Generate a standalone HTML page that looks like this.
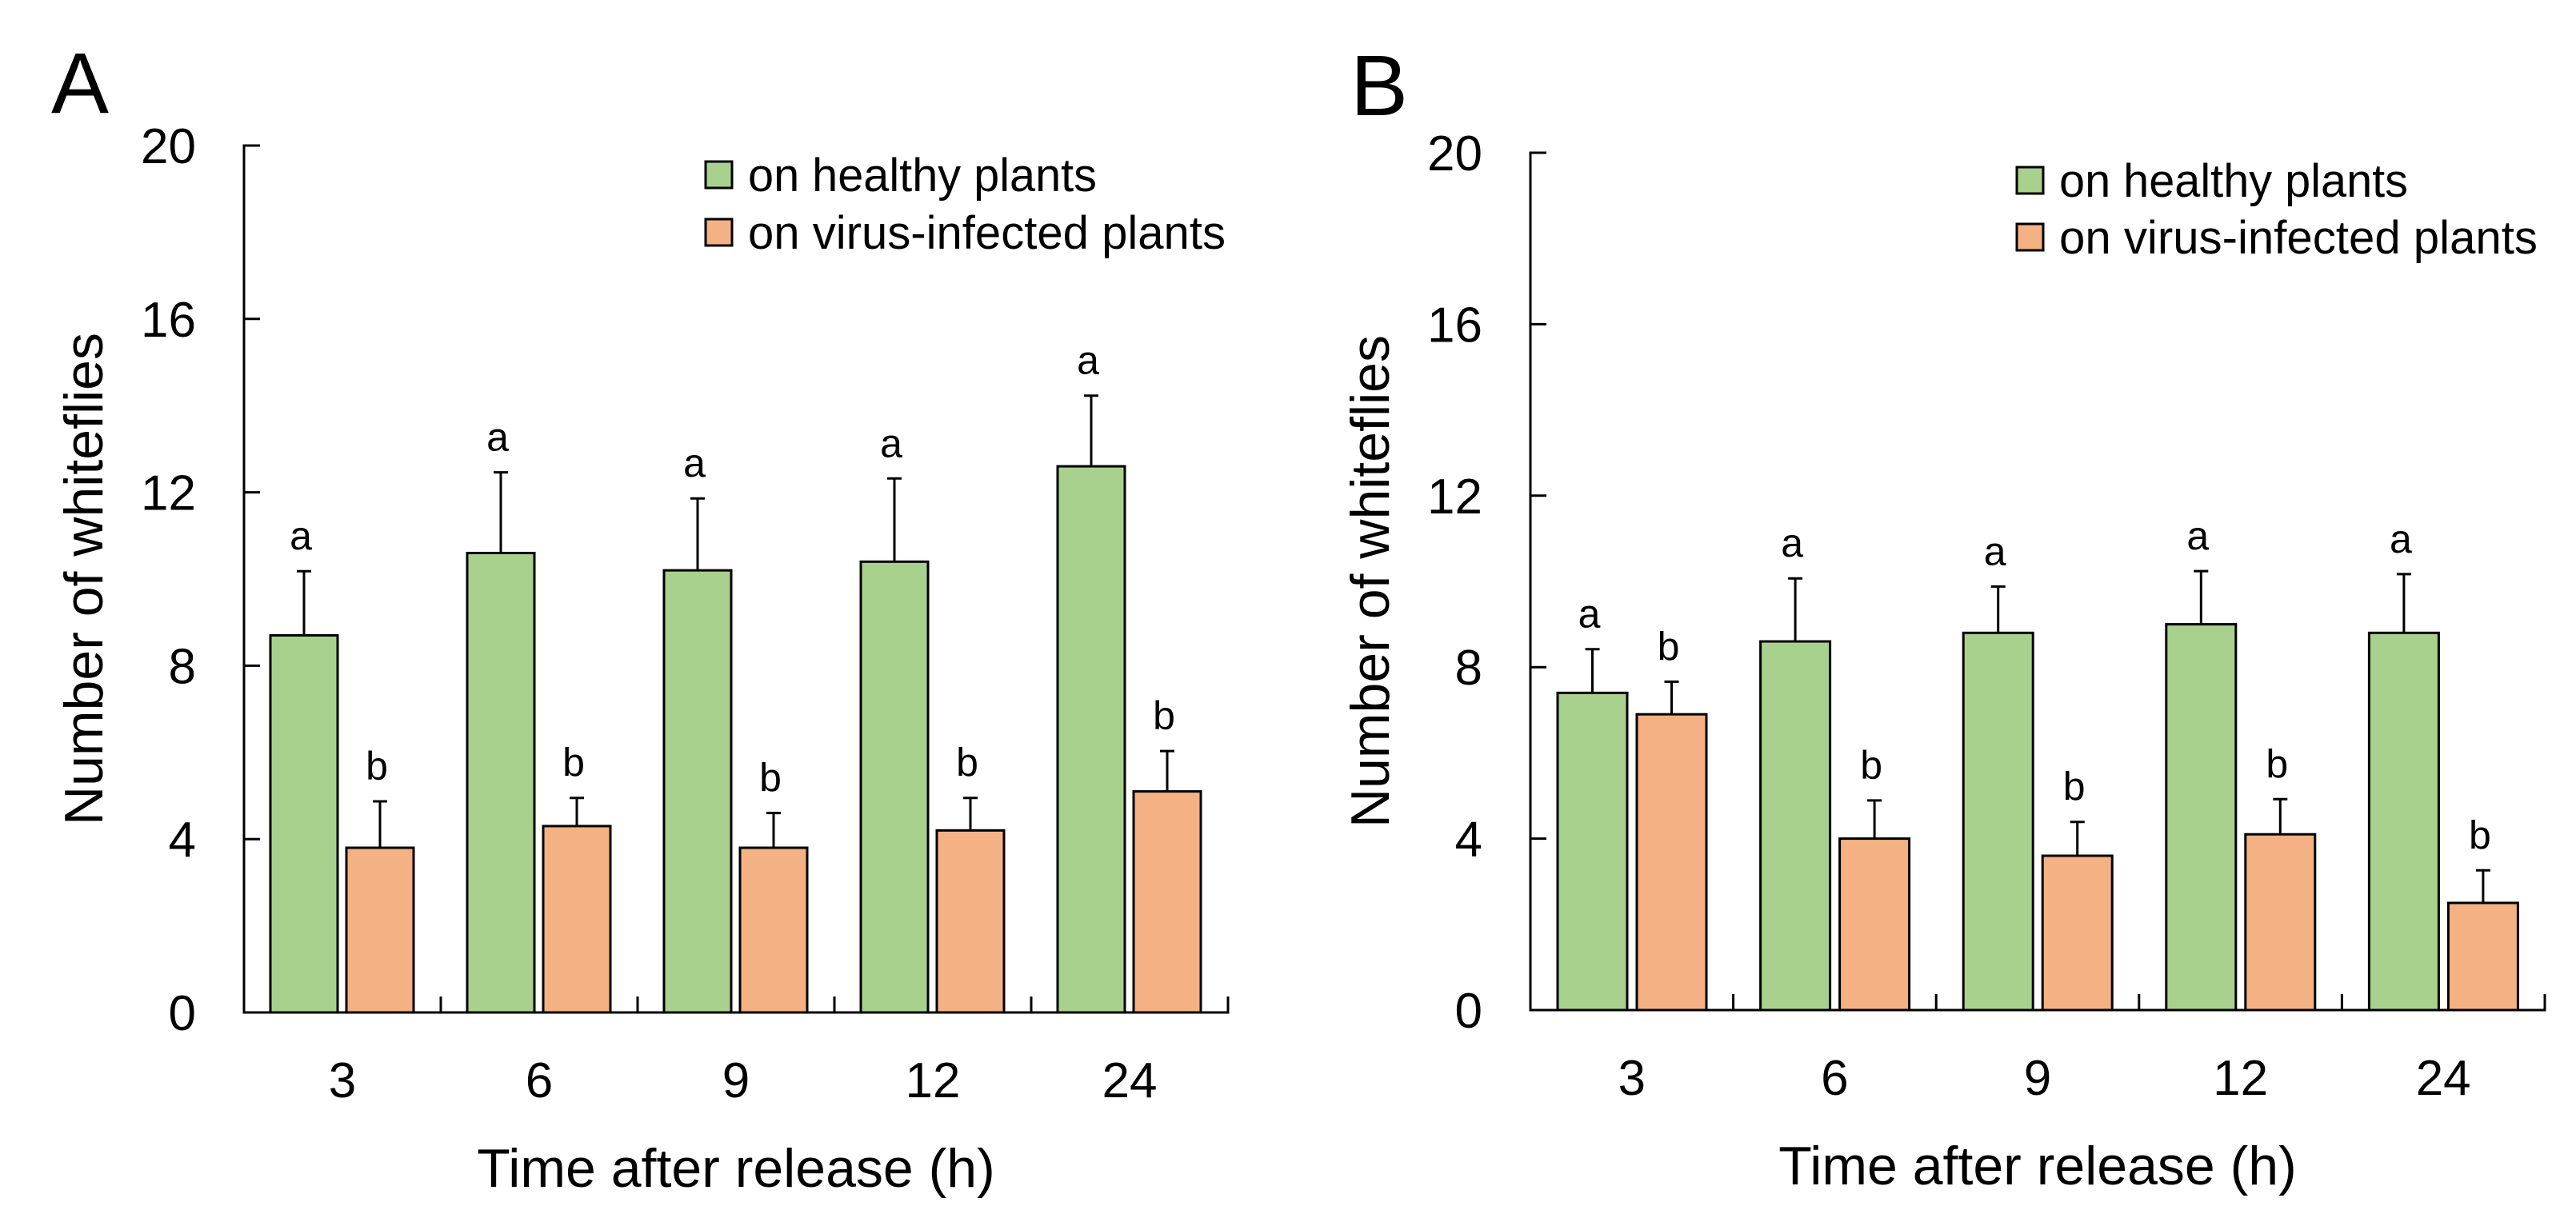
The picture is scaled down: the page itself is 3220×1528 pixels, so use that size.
<!DOCTYPE html>
<html><head><meta charset="utf-8"><style>
html,body{margin:0;padding:0;background:#fff;}
svg{display:block;font-family:"Liberation Sans",sans-serif;}
</style></head><body>
<svg id="chart" width="3220" height="1528" viewBox="0 0 3220 1528" xmlns="http://www.w3.org/2000/svg"></svg>
<script>
const categories = ["3","6","9","12","24"];
const yTicks = [0,4,8,12,16,20];
const healthyA = [8.7,10.6,10.2,10.4,12.6];
const healthyErrA = [1.48,1.86,1.66,1.92,1.63];
const infectedA = [3.8,4.3,3.8,4.2,5.1];
const infectedErrA = [1.07,0.65,0.8,0.75,0.93];
const healthyB = [7.4,8.6,8.8,9.0,8.8];
const healthyErrB = [1.02,1.47,1.08,1.24,1.37];
const infectedB = [6.9,4.0,3.6,4.1,2.5];
const infectedErrB = [0.76,0.89,0.79,0.82,0.76];
const lettersHealthy = ["a","a","a","a","a"];
const lettersInfected = ["b","b","b","b","b"];

const NS = "http://www.w3.org/2000/svg";
const svg = document.getElementById("chart");
function mk(tag, attrs, parent, text){
  const e = document.createElementNS(NS, tag);
  for (const k in attrs) e.setAttribute(k, attrs[k]);
  if (text !== undefined) e.textContent = text;
  (parent||svg).appendChild(e);
  return e;
}

function panel(p){
  const g = mk("g", {});
  
  
  const yMax = 20;
  const yS = v => p.y0 - v / yMax * (p.y0 - p.y20);
  const catW = p.catW;
  const xCat = i => p.x0 + i * catW;

  const lab = mk("text", {x:p.labX, y:p.labY, "font-size":108, fill:"#000"}, g, p.id);
  
  

  const yAxis = mk("line", {x1:p.x0, y1:p.y20-1.5, x2:p.x0, y2:p.y0+1.5, stroke:"#000","stroke-width":3}, g);
  
  
  const xEnd = xCat(categories.length);
  const xAxis = mk("line", {x1:p.x0-1.5, y1:p.y0, x2:xEnd+1.5, y2:p.y0, stroke:"#000","stroke-width":3}, g);
  
  

  yTicks.forEach(v => {
    const y = yS(v);
    const t = mk("line", {x1:p.x0, y1:y, x2:p.x0+20, y2:y, stroke:"#000","stroke-width":3}, g);
    
    
    const tl = mk("text", {x:p.x0-60, y:y+22, "font-size":62, "text-anchor":"end", fill:"#000"}, g, String(v));
    
    
  });
  for (let i=1;i<=categories.length;i++){
    const x = xCat(i);
    const t = mk("line", {x1:x, y1:p.y0, x2:x, y2:p.y0-20, stroke:"#000","stroke-width":3}, g);
    
    
  }
  categories.forEach((c,i) => {
    const tl = mk("text", {x:xCat(i)+catW/2, y:p.y0+106, "font-size":62, "text-anchor":"middle", fill:"#000"}, g, c);
    
    
  });

  const series = [
    {vals:p.h, errs:p.he, fill:"#a9d18e", off:p.off, letters:lettersHealthy, name:"healthy"},
    {vals:p.v, errs:p.ve, fill:"#f4b183", off:p.off+p.bw+p.gap, letters:lettersInfected, name:"infected"}
  ];
  series.forEach(s => {
    s.vals.forEach((v,i) => {
      const x = xCat(i) + s.off;
      const yt = yS(v);
      const r = mk("rect", {x:x, y:yt, width:p.bw, height:p.y0-yt, fill:s.fill, stroke:"#000","stroke-width":3}, g);
      
      
      const cx = x + p.bw/2;
      const ye = yS(v + s.errs[i]);
      const el = mk("path", {d:`M${cx},${yt} L${cx},${ye} M${cx-9},${ye} L${cx+9},${ye}`, stroke:"#000","stroke-width":3, fill:"none"}, g);
      
      
      const lt = mk("text", {x:cx-4, y:ye-27, "font-size":50, "text-anchor":"middle", fill:"#000"}, g, s.letters[i]);
      
      
    });
  });

  const yt = mk("text", {x:0, y:0, "font-size":68, "text-anchor":"middle", fill:"#000",
    transform:`translate(${p.ytX},${(p.y0+p.y20)/2}) rotate(-90)`}, g, "Number of whiteflies");
  
  
  const xt = mk("text", {x:p.x0+(xEnd-p.x0)/2, y:p.y0+218, "font-size":68, "text-anchor":"middle", fill:"#000"}, g, "Time after release (h)");
  
  

  const leg = mk("g", {}, g);
  
  
  [["on healthy plants","#a9d18e",p.lgY1,"legend-entry-healthy",436],["on virus-infected plants","#f4b183",p.lgY2,"legend-entry-infected",p.lgW]].forEach((e,k) => {
    const sw = mk("rect", {x:p.lgX, y:e[2]-17, width:33, height:33, fill:e[1], stroke:"#000","stroke-width":3}, leg);
    
    
    const attrs = {x:p.lgX+53, y:e[2]+20, "font-size":58, fill:"#000", textLength:e[4], lengthAdjust:"spacingAndGlyphs"};
    const tx = mk("text", attrs, leg, e[0]);
    
    
  });
}

panel({id:"A", x0:305, y0:1266, y20:182, catW:246, off:33, bw:84, gap:11,
  h:healthyA, he:healthyErrA, v:infectedA, ve:infectedErrA,
  labX:64, labY:141, ytX:128, lgX:882, lgY1:219, lgY2:291, lgW:597});
panel({id:"B", x0:1913, y0:1263, y20:191, catW:253.6, off:34, bw:87, gap:12,
  h:healthyB, he:healthyErrB, v:infectedB, ve:infectedErrB,
  labX:1688, labY:144, ytX:1736, lgX:2521, lgY1:226, lgY2:297, lgW:598});
</script>
</body></html>
